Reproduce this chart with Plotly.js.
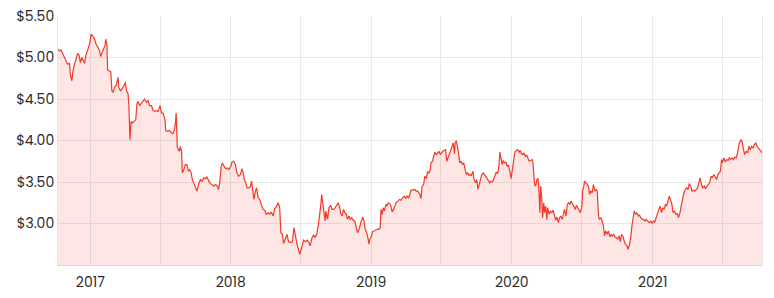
<!DOCTYPE html>
<html>
<head>
<meta charset="utf-8">
<script src="https://cdn.plot.ly/plotly-3.0.1.min.js"></script>
<style>html,body{margin:0;padding:0;background:#fff}#chart{width:774px;height:298px}</style>
</head>
<body>
<div id="chart"></div>
<script>
const dates = [
"2016-10-09","2016-10-13","2016-10-17","2016-10-21","2016-10-26","2016-10-30","2016-11-03","2016-11-08","2016-11-10","2016-11-14","2016-11-17","2016-11-21","2016-11-25","2016-11-29","2016-12-03","2016-12-06","2016-12-10","2016-12-13","2016-12-17","2016-12-20","2016-12-26","2016-12-30",
"2017-01-03","2017-01-07","2017-01-12","2017-01-16","2017-01-21","2017-01-25","2017-01-28","2017-01-31","2017-02-04","2017-02-08","2017-02-10","2017-02-13","2017-02-15","2017-02-18","2017-02-23","2017-02-26","2017-03-01","2017-03-05","2017-03-09","2017-03-14","2017-03-16","2017-03-20","2017-03-24","2017-03-29","2017-04-02","2017-04-05","2017-04-09","2017-04-11","2017-04-14","2017-04-17","2017-04-20","2017-04-25","2017-04-29","2017-05-02","2017-05-05","2017-05-09","2017-05-14","2017-05-18","2017-05-22","2017-05-27","2017-05-31","2017-06-04","2017-06-09","2017-06-13","2017-06-17","2017-06-22","2017-06-26","2017-07-01","2017-07-05","2017-07-09","2017-07-14","2017-07-16","2017-07-21","2017-07-25","2017-07-29","2017-08-03","2017-08-07","2017-08-10","2017-08-12",
"2017-08-15","2017-08-20","2017-08-23","2017-08-26","2017-08-28","2017-09-01","2017-09-05","2017-09-09","2017-09-13","2017-09-16","2017-09-20","2017-09-23","2017-09-27","2017-10-01","2017-10-05","2017-10-09","2017-10-14","2017-10-18","2017-10-23","2017-10-27","2017-10-31","2017-11-05","2017-11-09","2017-11-13","2017-11-18","2017-11-22","2017-11-26","2017-11-30","2017-12-03","2017-12-07","2017-12-10","2017-12-14","2017-12-19","2017-12-23","2017-12-27",
"2018-01-01","2018-01-04","2018-01-08","2018-01-13","2018-01-17","2018-01-21","2018-01-26","2018-01-30","2018-02-02","2018-02-05","2018-02-09","2018-02-12","2018-02-17","2018-02-21","2018-02-24","2018-02-27","2018-03-02","2018-03-06","2018-03-09","2018-03-13","2018-03-17","2018-03-21","2018-03-26","2018-03-30","2018-04-03","2018-04-08","2018-04-12","2018-04-16","2018-04-21","2018-04-25","2018-04-29","2018-05-04","2018-05-08","2018-05-11","2018-05-15","2018-05-18","2018-05-23","2018-05-27","2018-05-31","2018-06-05","2018-06-10","2018-06-14",
"2018-06-22","2018-06-26","2018-06-29","2018-07-03","2018-07-06","2018-07-09","2018-07-14","2018-07-18","2018-07-22","2018-07-26","2018-07-31","2018-08-04","2018-08-08","2018-08-12","2018-08-16","2018-08-19","2018-08-23","2018-08-25","2018-08-28","2018-08-31","2018-09-03","2018-09-05","2018-09-09","2018-09-13","2018-09-17","2018-09-21","2018-09-25","2018-09-29","2018-10-04","2018-10-07","2018-10-11","2018-10-14","2018-10-17","2018-10-21","2018-10-24","2018-10-28","2018-10-31","2018-11-04","2018-11-07","2018-11-11","2018-11-15","2018-11-19","2018-11-23","2018-11-26","2018-11-30","2018-12-03","2018-12-06","2018-12-10","2018-12-13","2018-12-16","2018-12-20","2018-12-23","2018-12-26","2018-12-28",
"2019-01-01","2019-01-04","2019-01-07","2019-01-12","2019-01-16","2019-01-20","2019-01-24","2019-01-26","2019-01-29","2019-02-01","2019-02-04","2019-02-08","2019-02-11","2019-02-14","2019-02-18","2019-02-21","2019-02-24","2019-02-28","2019-03-03","2019-03-06","2019-03-11","2019-03-15","2019-03-19","2019-03-23","2019-03-28","2019-03-31","2019-04-04","2019-04-08","2019-04-11","2019-04-14",
"2019-04-24","2019-04-28","2019-05-02","2019-05-07","2019-05-10","2019-05-13","2019-05-17","2019-05-20","2019-05-24","2019-05-27","2019-05-31","2019-06-03","2019-06-05","2019-06-09","2019-06-12","2019-06-15","2019-06-19","2019-06-22","2019-06-26","2019-06-29","2019-07-03","2019-07-06","2019-07-09","2019-07-13","2019-07-16","2019-07-20","2019-07-23","2019-07-26","2019-07-30","2019-08-02","2019-08-05","2019-08-07","2019-08-10","2019-08-12","2019-08-16","2019-08-19","2019-08-22","2019-08-26","2019-08-29","2019-09-02","2019-09-05","2019-09-08","2019-09-12","2019-09-15","2019-09-18","2019-09-22","2019-09-25","2019-09-29","2019-10-02","2019-10-05","2019-10-09","2019-10-12","2019-10-15","2019-10-19","2019-10-22","2019-10-26","2019-10-29","2019-11-01","2019-11-05","2019-11-08","2019-11-12","2019-11-15","2019-11-18","2019-11-22","2019-11-25","2019-11-28","2019-12-01","2019-12-04","2019-12-07","2019-12-10","2019-12-13","2019-12-17","2019-12-20","2019-12-23","2019-12-27","2019-12-30",
"2020-01-03","2020-01-06","2020-01-09","2020-01-13","2020-01-16","2020-01-20","2020-01-23","2020-01-26","2020-01-30","2020-02-02","2020-02-05","2020-02-09","2020-02-12","2020-02-15",
"2020-02-23","2020-02-25","2020-02-28","2020-03-01","2020-03-04","2020-03-06","2020-03-09","2020-03-11","2020-03-14","2020-03-16","2020-03-19","2020-03-21","2020-03-24","2020-03-26","2020-03-29","2020-04-01","2020-04-03","2020-04-07","2020-04-10","2020-04-14","2020-04-17","2020-04-20","2020-04-24","2020-04-27","2020-05-01","2020-05-04","2020-05-07","2020-05-11","2020-05-14","2020-05-17","2020-05-21","2020-05-24","2020-05-28","2020-05-31","2020-06-03","2020-06-07","2020-06-10","2020-06-14","2020-06-17","2020-06-20","2020-06-24","2020-06-27","2020-07-01","2020-07-03","2020-07-06","2020-07-08","2020-07-11","2020-07-14","2020-07-18","2020-07-21","2020-07-24","2020-07-28","2020-07-31","2020-08-04","2020-08-07","2020-08-10","2020-08-13","2020-08-15","2020-08-19","2020-08-22","2020-08-26","2020-08-29","2020-09-01","2020-09-05","2020-09-08","2020-09-12","2020-09-15","2020-09-18","2020-09-22","2020-09-25","2020-09-29","2020-10-02","2020-10-06","2020-10-09","2020-10-12","2020-10-16","2020-10-19","2020-10-22","2020-10-26","2020-10-29","2020-11-02","2020-11-05","2020-11-08","2020-11-12","2020-11-14","2020-11-18","2020-11-21","2020-11-25","2020-11-28","2020-12-01","2020-12-05","2020-12-08","2020-12-12","2020-12-15","2020-12-18",
"2020-12-20","2020-12-23","2020-12-27","2020-12-30","2021-01-03","2021-01-06","2021-01-10","2021-01-13","2021-01-17","2021-01-20","2021-01-24","2021-01-27","2021-01-31","2021-02-03","2021-02-06","2021-02-10","2021-02-13","2021-02-16","2021-02-20","2021-02-23","2021-02-27","2021-03-02","2021-03-06","2021-03-09","2021-03-13","2021-03-16","2021-03-20","2021-03-23","2021-03-27","2021-03-30","2021-04-03","2021-04-06","2021-04-10","2021-04-13","2021-04-17","2021-04-20","2021-04-24","2021-04-27","2021-05-01","2021-05-04","2021-05-08","2021-05-11","2021-05-15","2021-05-18","2021-05-22","2021-05-26","2021-05-29","2021-06-02","2021-06-05","2021-06-09","2021-06-12","2021-06-16","2021-06-19","2021-06-23","2021-06-26","2021-06-29","2021-07-01","2021-07-05","2021-07-09","2021-07-12","2021-07-16","2021-07-19","2021-07-23","2021-07-26","2021-07-30","2021-08-02","2021-08-06","2021-08-09","2021-08-12","2021-08-14","2021-08-18","2021-08-21","2021-08-25","2021-08-28","2021-09-01","2021-09-05","2021-09-08","2021-09-12","2021-09-15","2021-09-19","2021-09-22","2021-09-26","2021-09-29","2021-10-03","2021-10-06","2021-10-10","2021-10-12"
];
const prices = [
5.10,5.08,5.09,5.05,5.00,4.94,4.92,4.93,4.80,4.72,4.84,4.92,5.00,5.05,5.02,4.94,5.00,4.96,4.93,5.02,5.10,5.16,
5.28,5.26,5.22,5.16,5.12,5.08,5.01,5.06,5.10,5.14,5.22,5.16,4.85,4.84,4.83,4.60,4.58,4.64,4.66,4.76,4.64,4.60,4.62,4.66,4.70,4.60,4.56,4.44,4.01,4.23,4.21,4.23,4.25,4.44,4.47,4.42,4.45,4.48,4.50,4.46,4.48,4.42,4.42,4.36,4.35,4.36,4.35,4.42,4.33,4.33,4.25,4.12,4.11,4.12,4.10,4.08,4.12,4.21,4.33,
3.92,3.87,3.93,3.87,3.61,3.65,3.71,3.71,3.63,3.65,3.61,3.53,3.49,3.45,3.39,3.47,3.53,3.51,3.55,3.54,3.56,3.51,3.48,3.47,3.45,3.47,3.46,3.41,3.49,3.69,3.73,3.69,3.66,3.67,3.65,
3.69,3.74,3.75,3.71,3.61,3.57,3.59,3.66,3.61,3.53,3.49,3.43,3.43,3.45,3.51,3.41,3.29,3.39,3.43,3.31,3.29,3.23,3.17,3.16,3.11,3.13,3.11,3.14,3.09,3.18,3.20,3.25,3.19,2.89,2.87,2.76,2.83,2.87,2.78,2.77,2.78,2.95,
2.75,2.67,2.63,2.69,2.77,2.80,2.78,2.80,2.78,2.73,2.83,2.86,2.83,2.87,2.97,3.07,3.23,3.35,3.23,3.11,3.03,3.15,3.05,3.19,3.22,3.17,3.17,3.19,3.23,3.25,3.19,3.11,3.09,3.17,3.13,3.11,3.05,3.09,3.05,3.07,3.04,3.03,2.95,2.89,2.93,2.99,3.03,3.08,3.03,2.93,2.89,2.83,2.75,2.81,
2.84,2.90,2.91,2.92,2.93,2.93,2.95,3.17,3.11,3.19,3.15,3.23,3.21,3.25,3.24,3.21,3.14,3.17,3.22,3.25,3.27,3.29,3.28,3.31,3.33,3.30,3.33,3.31,3.35,3.40,
3.41,3.39,3.39,3.35,3.30,3.45,3.47,3.57,3.54,3.62,3.61,3.65,3.73,3.75,3.81,3.86,3.83,3.85,3.87,3.83,3.86,3.87,3.88,3.89,3.75,3.81,3.83,3.88,3.93,3.97,3.84,3.98,3.99,3.95,3.81,3.73,3.75,3.71,3.73,3.63,3.59,3.61,3.58,3.59,3.58,3.63,3.53,3.49,3.53,3.41,3.49,3.55,3.59,3.61,3.59,3.55,3.53,3.51,3.49,3.51,3.50,3.54,3.58,3.62,3.60,3.67,3.86,3.75,3.71,3.76,3.73,3.74,3.69,3.70,3.63,3.54,
3.67,3.81,3.86,3.88,3.89,3.86,3.88,3.84,3.83,3.85,3.81,3.82,3.77,3.75,
3.77,3.73,3.53,3.45,3.47,3.53,3.54,3.45,3.13,3.45,3.29,3.07,3.25,3.13,3.21,3.05,3.19,3.11,3.15,3.13,3.16,3.09,3.04,3.08,3.01,3.07,3.09,3.05,3.13,3.17,3.09,3.23,3.25,3.23,3.27,3.23,3.19,3.17,3.22,3.19,3.15,3.13,3.21,3.39,3.45,3.51,3.49,3.48,3.45,3.35,3.39,3.37,3.47,3.39,3.41,3.39,3.11,3.05,3.07,3.04,2.97,2.85,2.91,2.87,2.91,2.84,2.87,2.85,2.87,2.84,2.83,2.81,2.85,2.78,2.87,2.84,2.79,2.75,2.73,2.69,2.75,2.83,2.97,3.09,3.15,3.11,3.13,3.09,3.10,3.07,3.05,3.05,3.03,3.05,3.03,
3.03,3.01,3.03,3.00,3.03,3.01,3.07,3.11,3.15,3.21,3.13,3.19,3.17,3.23,3.21,3.29,3.33,3.29,3.23,3.13,3.15,3.11,3.12,3.07,3.13,3.21,3.31,3.37,3.41,3.43,3.41,3.48,3.45,3.39,3.40,3.39,3.41,3.42,3.49,3.55,3.47,3.43,3.45,3.42,3.45,3.47,3.49,3.57,3.55,3.59,3.57,3.53,3.59,3.61,3.63,3.77,3.73,3.79,3.74,3.77,3.76,3.79,3.77,3.79,3.77,3.80,3.79,3.84,3.93,3.97,4.01,3.99,3.89,3.83,3.87,3.85,3.93,3.89,3.93,3.91,3.95,3.97,3.93,3.90,3.89,3.87,3.85
];
const xTickVals = ["2017-01-01","2017-07-01","2018-01-01","2018-07-01","2019-01-01","2019-07-01","2020-01-01","2020-07-01","2021-01-01","2021-07-01"];
const xTickText = ["2017","","2018","","2019","","2020","","2021",""];
const yTickVals = [3.0,3.5,4.0,4.5,5.0,5.5];
const yTickText = ["$3.00","$3.50","$4.00","$4.50","$5.00","$5.50"];

const trace = {
  x: dates, y: prices, type: "scatter", mode: "lines",
  line: {color: "#f23a2a", width: 1.2},
  fill: "tozeroy", fillcolor: "rgba(242,58,42,0.13)",
  hoverinfo: "skip"
};
const layout = {
  width: 774, height: 298,
  margin: {l: 58, r: 12, t: 16, b: 33},
  paper_bgcolor: "#ffffff", plot_bgcolor: "#ffffff",
  font: {family: "Poppins, Inter, 'Open Sans', sans-serif", size: 14, color: "#2b2b2b"},
  showlegend: false,
  xaxis: {
    type: "date", range: ["2016-10-09", "2021-10-12"],
    tickvals: xTickVals, ticktext: xTickText,
    showgrid: true, gridcolor: "#e9e9e9", gridwidth: 1,
    showline: true, linecolor: "#e2d6d5", linewidth: 1,
    ticks: "", ticklen: 0, ticklabelstandoff: 4, zeroline: false, fixedrange: true
  },
  yaxis: {
    range: [2.5, 5.5],
    tickvals: yTickVals, ticktext: yTickText,
    showgrid: true, gridcolor: "#e9e9e9", gridwidth: 1,
    showline: true, linecolor: "#e6e6e6", linewidth: 1, mirror: true,
    ticks: "", zeroline: false, fixedrange: true
  }
};
Plotly.newPlot("chart", [trace], layout, {displayModeBar: false, staticPlot: true});
</script>
</body>
</html>
